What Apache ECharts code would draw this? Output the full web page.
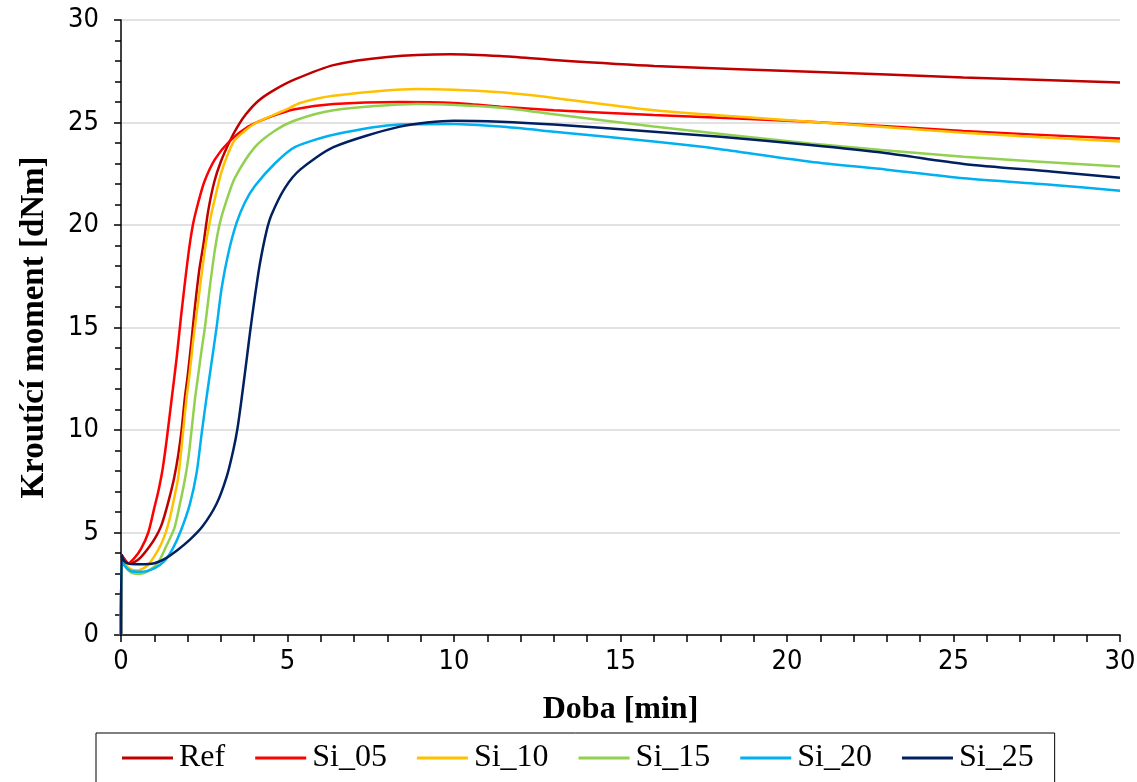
<!DOCTYPE html>
<html>
<head>
<meta charset="utf-8">
<script src="https://cdn.jsdelivr.net/npm/echarts@6/dist/echarts.min.js"></script>
<style>
html,body{margin:0;padding:0;background:#fff;}
#chart{width:1137px;height:782px;}
</style>
</head>
<body>
<div id="chart"></div>
<script>
// time [min], torque [dNm]
const refData = [[0,0],[0.02,3.9],[0.1,3.7],[0.22,3.5],[0.4,3.55],[0.6,3.8],[0.85,4.3],[1.05,4.8],[1.2,5.3],[1.32,5.9],[1.47,6.8],[1.6,7.7],[1.72,8.8],[1.82,10],[1.92,11.6],[2.0,12.6],[2.12,14.4],[2.22,16.0],[2.35,17.8],[2.47,19.0],[2.62,20.7],[2.8,22.1],[3.0,23.1],[3.27,24.1],[3.5,24.8],[3.75,25.4],[4.12,26.05],[4.62,26.6],[5.22,27.1],[6.38,27.8],[8,28.2],[9.88,28.33],[11.4,28.24],[13,28.05],[16,27.76],[20.7,27.48],[25.3,27.2],[30,26.95]];
const si05Data = [[0,0],[0.02,3.9],[0.1,3.7],[0.22,3.5],[0.4,3.75],[0.6,4.2],[0.82,5.0],[1.0,6.2],[1.12,7.0],[1.25,8.1],[1.37,9.5],[1.52,11.5],[1.67,13.5],[1.8,15.5],[1.92,17.2],[2.05,18.9],[2.17,20.1],[2.32,21.1],[2.5,22.1],[2.82,23.2],[3.27,24.1],[3.82,24.8],[4.52,25.3],[5.22,25.65],[6.38,25.9],[8.38,26.0],[10,25.95],[11.4,25.77],[13,25.6],[16,25.37],[20.7,25.04],[25.3,24.58],[30,24.22]];
const si10Data = [[0,0],[0.02,3.8],[0.1,3.5],[0.3,3.2],[0.5,3.15],[0.8,3.4],[1.1,4.1],[1.3,4.8],[1.45,5.6],[1.6,6.7],[1.72,7.7],[1.87,10],[1.97,11.6],[2.05,12.6],[2.17,14.4],[2.32,16.3],[2.52,18.8],[2.67,20.2],[2.82,21.3],[3.02,22.6],[3.22,23.5],[3.42,24.15],[4.02,24.95],[4.92,25.6],[5.38,25.95],[6.38,26.3],[8.88,26.63],[11.4,26.47],[13,26.2],[16,25.6],[20.7,25.04],[25.3,24.5],[30,24.07]];
const si15Data = [[0,0],[0.02,3.7],[0.1,3.4],[0.3,3.05],[0.55,2.98],[0.8,3.1],[1.1,3.5],[1.35,4.3],[1.6,5.2],[1.77,6.4],[1.92,7.6],[2.02,8.6],[2.12,10],[2.22,11.5],[2.32,12.7],[2.42,13.9],[2.52,15.0],[2.67,17.0],[2.82,18.8],[2.97,20.1],[3.17,21.2],[3.42,22.3],[4.02,23.8],[4.62,24.6],[5.22,25.1],[6.38,25.6],[8.88,25.9],[11.4,25.72],[13,25.4],[16,24.8],[20.7,23.98],[25.3,23.33],[30,22.85]];
const si20Data = [[0,0],[0.02,3.8],[0.1,3.4],[0.3,3.12],[0.6,3.08],[1.0,3.25],[1.3,3.6],[1.55,4.2],[1.8,5.1],[2.07,6.4],[2.27,7.9],[2.42,9.8],[2.57,11.6],[2.72,13.3],[2.87,15],[3.02,16.9],[3.22,18.6],[3.47,20.1],[3.72,21.1],[4.02,21.9],[4.62,23.0],[5.22,23.8],[6.38,24.4],[8.38,24.9],[10,24.93],[11.4,24.8],[13,24.55],[16,24.07],[18,23.7],[20.7,23.09],[23,22.7],[25.3,22.28],[28,21.95],[30,21.67]];
const si25Data = [[0,0],[0.02,3.9],[0.1,3.6],[0.25,3.47],[0.6,3.45],[1.0,3.5],[1.3,3.7],[1.7,4.15],[2.07,4.65],[2.45,5.3],[2.87,6.4],[3.17,7.7],[3.37,9.0],[3.5,10.1],[3.62,11.5],[3.77,13.4],[3.87,14.7],[4.02,16.5],[4.17,18.1],[4.37,19.7],[4.52,20.5],[4.92,21.8],[5.38,22.7],[6.38,23.8],[8.38,24.8],[10,25.09],[11.4,25.04],[13,24.9],[16,24.55],[18,24.3],[20.7,23.9],[23,23.5],[25.3,22.98],[28,22.6],[30,22.3]];

const seriesNames = ['Ref','Si_05','Si_10','Si_15','Si_20','Si_25'];
const seriesColors = ['#C00000','#FF0000','#FFC000','#92D050','#00B0F0','#002060'];
const seriesData = [refData, si05Data, si10Data, si15Data, si20Data, si25Data];

const xAxisName = 'Doba [min]';
const yAxisName = 'Kroutící moment [dNm]';

const tickFont = "'Liberation Sans Narrow','DejaVu Sans Condensed','Noto Sans',sans-serif";
const serifFont = "'Liberation Serif','Times New Roman',serif";

const chart = echarts.init(document.getElementById('chart'), null, {renderer:'canvas'});
chart.setOption({
  animation:false,
  backgroundColor:'#fff',
  grid:{left:121,right:17,top:20,bottom:147,containLabel:false,outerBoundsMode:'none'},
  legend:{
    left:96, top:733,
    itemWidth:51, itemHeight:3, itemGap:30,
    icon:'rect',
    padding:[9,21,20,26],
    borderColor:'#000', borderWidth:1,
    textStyle:{fontFamily:serifFont,fontSize:32,color:'#000',padding:[0,0,0,1]},
    data:seriesNames
  },
  xAxis:{
    type:'value', min:0, max:30, interval:5,
    name:xAxisName, nameLocation:'middle', nameGap:59,
    nameTextStyle:{fontFamily:serifFont,fontWeight:'bold',fontSize:32,color:'#000'},
    axisLine:{show:true,onZero:false,lineStyle:{color:'#000',width:1.5}},
    axisTick:{show:true,inside:false,length:7,lineStyle:{color:'#000',width:1.5}},
    minorTick:{show:true,splitNumber:5,length:7,lineStyle:{color:'#000',width:1.5}},
    axisLabel:{fontFamily:tickFont,fontSize:27,color:'#000',margin:13},
    splitLine:{show:false}
  },
  yAxis:{
    type:'value', min:0, max:30, interval:5,
    name:yAxisName, nameLocation:'middle', nameGap:70,
    nameTextStyle:{fontFamily:serifFont,fontWeight:'bold',fontSize:33,color:'#000'},
    axisLine:{show:true,lineStyle:{color:'#000',width:1.5}},
    axisTick:{show:true,inside:false,length:7,lineStyle:{color:'#000',width:1.5}},
    minorTick:{show:true,splitNumber:5,length:6,lineStyle:{color:'#000',width:1.5}},
    axisLabel:{fontFamily:tickFont,fontSize:27,color:'#000',margin:22},
    splitLine:{show:true,lineStyle:{color:'#D9D9D9',width:1.5}}
  },
  series: seriesNames.map((n,i)=>({
    name:n, type:'line', data:seriesData[i],
    symbol:'none', smooth:0.25,
    color:seriesColors[i],
    lineStyle:{color:seriesColors[i],width:2.5},
    z:2+i
  }))
});
</script>
</body>
</html>
